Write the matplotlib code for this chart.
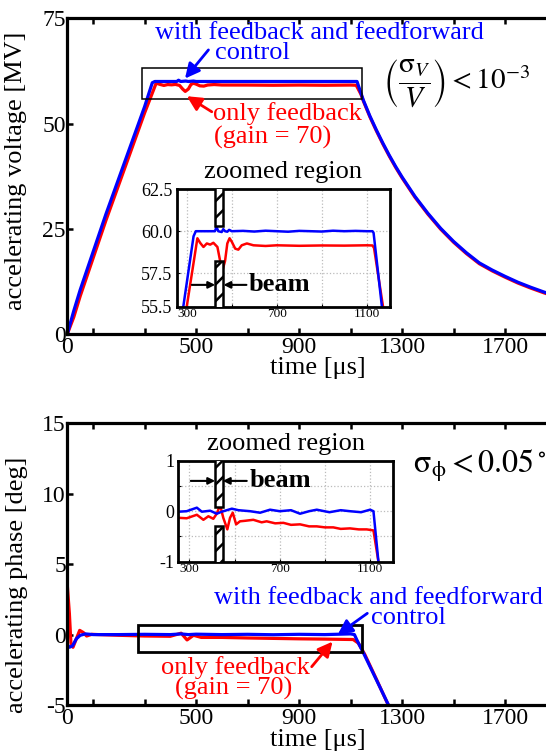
import matplotlib
matplotlib.use("Agg")
import matplotlib.pyplot as plt
from matplotlib.patches import Rectangle

plt.rcParams['font.family'] = ['Liberation Serif', 'DejaVu Serif']
plt.rcParams['mathtext.fontset'] = 'stix'
plt.rcParams['hatch.linewidth'] = 1.8
plt.rcParams['axes.unicode_minus'] = False

BLUE = '#0000ff'
RED = '#ff0000'

# ---- accelerating voltage, full pulse (time in us, voltage in MV) ----
t_volt_ff = [0, 25, 50, 100, 150, 200, 250, 300, 330, 340, 425, 432, 440, 460, 470,
             490, 500, 600, 700, 800, 900, 1000, 1100, 1125, 1140, 1150, 1175, 1200,
             1225, 1250, 1275, 1300, 1350, 1400, 1450, 1500, 1550, 1600, 1650, 1700,
             1750, 1800, 1850, 1900, 2000]
v_ff = [0, 5.5, 10.5, 19.5, 28.5, 37, 45.5, 54, 59.7, 60, 60, 60.3, 60, 60.1, 60,
        60.1, 60, 60, 60, 60, 60, 60, 60, 60, 57.3, 55.5, 51.8, 48.5,
        45.4, 42.5, 39.8, 37.3, 32.7, 28.7, 25.1, 22.0, 19.3, 16.9, 15.2, 13.7,
        12.3, 11.1, 10.0, 9.0, 7.3]

t_volt_fb = [0, 25, 50, 100, 150, 200, 250, 300, 345, 360, 375, 390, 405, 420, 436,
             448, 458, 470, 480, 490, 500, 515, 530, 545, 570, 600, 700, 800, 900,
             1000, 1100, 1122, 1140, 1150, 1175, 1200, 1225, 1250, 1275, 1300, 1350,
             1400, 1450, 1500, 1550, 1600, 1650, 1700, 1750, 1800, 1850, 1900, 2000]
v_fb = [0, 4, 9, 18, 27, 35.5, 44, 52.5, 59.6, 59.3, 59.06, 59.27, 59.2, 59.3, 59.06,
        58.2, 57.64, 58.2, 59.27, 59.58, 59.37, 58.96, 58.9, 59.16, 59.27, 59.16, 59.15,
        59.1, 59.15, 59.1, 59.15, 59.1, 57.0, 55.3, 51.6, 48.3, 45.2, 42.3, 39.6,
        37.1, 32.5, 28.5, 24.9, 21.8, 19.1, 16.7, 15.0, 13.5, 12.1, 10.9, 9.8, 8.8, 7.1]

# ---- zoomed voltage ----
tz_volt_ff = [250, 280, 330, 340, 400, 425, 432, 440, 455, 462, 470, 480, 488, 500, 550,
              600, 650, 700, 750, 800, 850, 900, 950, 1000, 1050, 1100, 1125, 1130, 1167, 1180]
vz_ff = [54.6, 55.1, 59.7, 60.0, 60.0, 60.0, 60.25, 60.0, 59.95, 60.12, 60.0, 59.97,
         60.08, 60.0, 60.02, 59.98, 60.03, 60.0, 59.97, 60.02, 60.0, 59.98, 60.03, 60.0,
         60.02, 60.0, 60.0, 59.9, 55.5, 54.4]

tz_volt_fb = [260, 295, 347, 359, 374, 389, 404, 418, 436, 448, 458, 470, 480, 490, 500,
              515, 529, 544, 567, 596, 650, 700, 800, 900, 1000, 1100, 1125, 1132, 1172, 1185]
vz_fb = [54.6, 55.1, 59.58, 59.31, 59.06, 59.27, 59.2, 59.31, 59.06, 58.23, 57.64, 58.23,
         59.27, 59.58, 59.37, 58.96, 58.9, 59.16, 59.27, 59.16, 59.12, 59.16, 59.13, 59.15,
         59.14, 59.16, 59.15, 59.0, 55.5, 54.4]

# ---- accelerating phase, full pulse (deg) ----
t_ph_ff = [0, 8, 20, 35, 50, 70, 100, 200, 300, 400, 442, 470, 500, 600, 700, 800,
           900, 1000, 1100, 1115, 1125, 1150, 1200, 1250, 1300]
ph_ff = [-0.7, -0.9, -0.8, -0.3, -0.05, 0.05, 0.0, 0.0, 0.02, 0.0, 0.05, 0.0, 0.03,
         0.0, 0.02, -0.01, 0.02, 0.0, 0.05, 0.0, -0.4, -1.3, -3.2, -5.1, -7.0]

t_ph_fb = [0, 8, 14, 22, 35, 48, 62, 75, 95, 120, 200, 300, 400, 442, 465, 490, 520,
           600, 700, 800, 900, 1000, 1110, 1130, 1155, 1200, 1250, 1300]
ph_fb = [3.5, 1.5, -0.6, -0.9, -0.3, 0.3, 0.15, -0.1, 0.02, 0.0, -0.05, -0.1, -0.12,
         0.1, -0.38, -0.05, -0.2, -0.2, -0.24, -0.27, -0.3, -0.32, -0.35, -0.6, -1.4,
         -3.15, -5.15, -7.0]

# ---- zoomed phase ----
tz_ph_ff = [251, 288, 333, 355, 392, 421, 443, 488, 517, 569, 613, 657, 700, 750, 790,
            830, 864, 920, 970, 1011, 1060, 1100, 1115, 1137, 1150]
phz_ff = [-0.01, 0.0, 0.07, -0.01, 0.01, -0.05, -0.01, 0.05, 0.02, 0.0, -0.03, 0.03,
          0.0, 0.02, -0.05, 0.0, 0.03, -0.02, 0.02, 0.0, -0.02, 0.03, 0.0, -1.0, -1.3]

tz_ph_fb = [251, 288, 333, 362, 384, 406, 421, 436, 450, 468, 480, 492, 507, 524, 546,
            583, 620, 642, 680, 716, 750, 790, 830, 864, 900, 937, 970, 1011, 1050,
            1085, 1115, 1137, 1150]
phz_fb = [-0.13, -0.14, -0.07, -0.17, -0.1, -0.15, -0.05, 0.12, -0.13, -0.36, -0.13,
          -0.03, -0.26, -0.2, -0.19, -0.17, -0.22, -0.2, -0.24, -0.23, -0.27, -0.26,
          -0.3, -0.3, -0.32, -0.32, -0.35, -0.34, -0.36, -0.36, -0.38, -1.0, -1.3]

# tick positions / labels
main_xticks = [0, 100, 300, 500, 700, 900, 1100, 1300, 1500, 1700, 1900]
main_xlabels = ['0', '', '', '500', '', '900', '', '1300', '', '1700', '']
inset_xticks = [300, 500, 700, 900, 1100]
inset_xlabels = ['300', '', '700', '', '1100']


def style_main(ax):
    for s in ax.spines.values():
        s.set_linewidth(2.3)
    ax.set_xlim(0, 2000)
    ax.set_xticks(main_xticks)
    ax.set_xticklabels(main_xlabels)
    ax.tick_params(direction='in', length=4, width=1.8, top=True, right=False,
                   labelsize=17)
    ax.tick_params(axis='x', pad=2)
    ax.tick_params(axis='y', pad=1)


def style_inset(ax):
    for s in ax.spines.values():
        s.set_linewidth(2.0)
    ax.set_xticks(inset_xticks)
    ax.set_xticklabels(inset_xlabels)
    ax.tick_params(axis='x', direction='in', length=2, labelsize=9.5, pad=1)
    ax.tick_params(axis='y', direction='in', length=2, labelsize=13, pad=3)
    ax.grid(True, color='#bbbbbb', linestyle=':', linewidth=0.9)


def beam_bar(ax, x0, x1, spans):
    for y0, y1 in spans:
        ax.add_patch(Rectangle((x0, y0), x1 - x0, y1 - y0, facecolor='white',
                               edgecolor='k', hatch='//', lw=1.8, zorder=4))


def arrow(ax, head, tail, color, lw=2.0, ms=22):
    ax.annotate('', xy=head, xytext=tail,
                arrowprops=dict(arrowstyle='-|>', color=color, lw=lw,
                                mutation_scale=ms, shrinkA=0, shrinkB=0))


fig = plt.figure(figsize=(5.46, 7.55), dpi=100)

# ===================== voltage =====================
ax1 = fig.add_axes([0.1233, 0.5576, 0.9432, 0.4181])
ax1.plot(t_volt_fb, v_fb, color=RED, lw=2.3)
ax1.plot(t_volt_ff, v_ff, color=BLUE, lw=2.3)
ax1.set_ylim(0, 75)
ax1.set_yticks([0, 25, 50, 75])
style_main(ax1)
ax1.set_xlabel('time [\u03bcs]', fontsize=19)
ax1.xaxis.set_label_coords(0.487, -0.072)
ax1.set_ylabel('accelerating voltage [MV]', fontsize=19)
ax1.yaxis.set_label_coords(-0.078, 0.517)

ax1.add_patch(Rectangle((289, 55.8), 1143 - 289, 63.3 - 55.8, fill=False,
                        edgecolor='k', lw=1.1, zorder=3))
ax1.text(981, 71.4, 'with feedback and feedforward', color=BLUE, fontsize=19,
         ha='center', va='center')
ax1.text(719, 66.7, 'control', color=BLUE, fontsize=19, ha='center', va='center')
ax1.text(854, 52.4, 'only feedback', color=RED, fontsize=19, ha='center', va='center')
ax1.text(799, 46.7, '(gain = 70)', color=RED, fontsize=19, ha='center', va='center')
arrow(ax1, (457, 60.7), (548, 67.5), BLUE)
arrow(ax1, (464, 56.5), (561, 52.8), RED)
ax1.text(1510, 59.6, r'$\left(\dfrac{\mathrm{\sigma}_V}{V}\right)< 10^{-3}$',
         fontsize=21, ha='center', va='center')

ins1 = fig.add_axes([0.3236, 0.5938, 0.3907, 0.1555])
ins1.plot(tz_volt_fb, vz_fb, color=RED, lw=1.8)
ins1.plot(tz_volt_ff, vz_ff, color=BLUE, lw=1.8)
ins1.set_xlim(255, 1203)
ins1.set_ylim(55.5, 62.5)
ins1.set_yticks([55.5, 57.5, 60.0, 62.5])
ins1.set_yticklabels(['55.5', '57.5', '60.0', '62.5'])
style_inset(ins1)
ins1.set_title('zoomed region', fontsize=19, pad=8)
beam_bar(ins1, 426, 463, [(60.3, 63.0), (54.0, 58.2)])
arrow(ins1, (426, 56.8), (322, 56.8), 'k', lw=1.5, ms=10)
arrow(ins1, (463, 56.8), (565, 56.8), 'k', lw=1.5, ms=10)
ins1.text(573, 56.8, 'beam', fontsize=19, fontweight='bold', ha='left', va='center')

# ===================== phase =====================
ax2 = fig.add_axes([0.1233, 0.0662, 0.9432, 0.3731])
ax2.plot(t_ph_fb, ph_fb, color=RED, lw=2.3)
ax2.plot(t_ph_ff, ph_ff, color=BLUE, lw=2.3)
ax2.set_ylim(-5, 15)
ax2.set_yticks([-5, 0, 5, 10, 15])
style_main(ax2)
ax2.set_xlabel('time [\u03bcs]', fontsize=19)
ax2.xaxis.set_label_coords(0.487, -0.085)
ax2.set_ylabel('accelerating phase [deg]', fontsize=19)
ax2.yaxis.set_label_coords(-0.076, 0.426)

ax2.add_patch(Rectangle((273, -1.21), 1145 - 273, 0.68 + 1.21, fill=False,
                        edgecolor='k', lw=2.0, zorder=3))
ax2.text(1207, 2.58, 'with feedback and feedforward', color=BLUE, fontsize=19,
         ha='center', va='center')
ax2.text(1324, 1.16, 'control', color=BLUE, fontsize=19, ha='center', va='center')
ax2.text(653, -2.35, 'only feedback', color=RED, fontsize=19, ha='center', va='center')
ax2.text(644, -3.85, '(gain = 70)', color=RED, fontsize=19, ha='center', va='center')
arrow(ax2, (1050, 0.0), (1165, 1.51), BLUE)
arrow(ax2, (1030, -0.5), (949, -2.28), RED)
ax2.text(1341, 12.0, r'$\mathrm{\sigma}_{\mathrm{\phi}} < 0.05^\circ$', fontsize=23,
         ha='left', va='center')

ins2 = fig.add_axes([0.3266, 0.256, 0.3938, 0.1338])
ins2.plot(tz_ph_fb, phz_fb, color=RED, lw=1.8)
ins2.plot(tz_ph_ff, phz_ff, color=BLUE, lw=1.8)
ins2.set_xlim(251, 1203)
ins2.set_ylim(-1, 1)
ins2.set_yticks([-1, -0.5, 0, 0.5, 1])
ins2.set_yticklabels(['-1', '', '0', '', '1'])
style_inset(ins2)
ins2.set_title('zoomed region', fontsize=19, pad=8)
beam_bar(ins2, 414, 448, [(0.08, 1.1), (-1.1, -0.3)])
arrow(ins2, (414, 0.6), (306, 0.6), 'k', lw=1.5, ms=10)
arrow(ins2, (448, 0.6), (554, 0.6), 'k', lw=1.5, ms=10)
ins2.text(566, 0.6, 'beam', fontsize=19, fontweight='bold', ha='left', va='center')

fig.savefig('out.png', dpi=100)
